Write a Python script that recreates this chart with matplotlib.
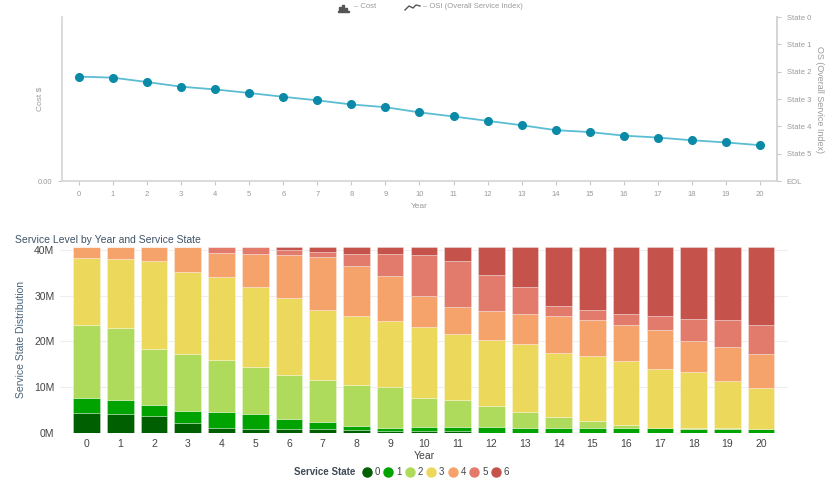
import numpy as np
import matplotlib
matplotlib.use("Agg")
import matplotlib.pyplot as plt
from matplotlib.lines import Line2D
from matplotlib.patches import Rectangle
from matplotlib.ticker import FuncFormatter

plt.rcParams['font.family'] = ['Liberation Sans', 'DejaVu Sans']

years = list(range(21))

# OSI (0 = State 0 ... 6 = EOL)
osi = [2.18, 2.22, 2.38, 2.55, 2.65, 2.78, 2.92, 3.05, 3.20, 3.30, 3.49,
       3.64, 3.80, 3.96, 4.14, 4.21, 4.34, 4.41, 4.51, 4.59, 4.69]
state_labels = ['State 0', 'State 1', 'State 2', 'State 3', 'State 4', 'State 5', 'EOL']

# service state distribution (millions) per year
state0 = [4.44, 4.2, 3.7, 2.25, 1.2, 0.95, 0.87, 0.8, 0.58, 0.44, 0.4,
          0.35, 0, 0, 0, 0, 0, 0, 0, 0, 0]
state1 = [3.27, 3.0, 2.4, 2.5, 3.35, 3.25, 2.26, 1.6, 0.95, 0.72, 0.84,
          0.89, 1.24, 1.16, 1.16, 1.0, 1.0, 1.0, 0.95, 0.95, 0.87]
state2 = [15.9, 15.8, 12.3, 12.5, 11.5, 10.3, 9.52, 9.16, 8.87, 8.8, 6.32,
          5.96, 4.66, 3.49, 2.34, 1.55, 0.8, 0.15, 0.1, 0.1, 0.1]
state3 = [14.7, 15.0, 19.1, 17.9, 18.0, 17.35, 16.95, 15.28, 15.2, 14.54, 15.64,
          14.47, 14.5, 14.7, 13.95, 14.25, 13.84, 12.89, 12.35, 10.35, 8.93]
state4 = [2.4, 2.7, 3.2, 5.6, 5.3, 7.25, 9.4, 11.66, 10.9, 9.75, 6.76,
          5.89, 6.3, 6.69, 8.05, 8.0, 7.86, 8.43, 6.7, 7.3, 7.4]
state5 = [0, 0, 0, 0, 1.3, 1.6, 0.9, 1.05, 2.6, 4.8, 8.84,
          9.94, 7.8, 5.76, 2.2, 2.04, 2.6, 3.13, 4.9, 5.95, 6.26]
state6 = [0, 0, 0, 0, 0, 0, 0.8, 1.15, 1.6, 1.65, 1.9,
          3.2, 6.2, 8.9, 13.0, 13.86, 14.6, 15.1, 15.7, 16.05, 17.14]
states = [state0, state1, state2, state3, state4, state5, state6]
state_names = ['0', '1', '2', '3', '4', '5', '6']
state_colors = ['#005f00', '#00a300', '#aedb5b', '#ecd95c', '#f6a36b', '#e27b6b', '#c5524b']

fig = plt.figure(figsize=(8.32, 4.84), dpi=100)

# ---------------- top chart: cost / OSI ----------------
grey = '#9a9a9a'
ax1 = fig.add_axes([62 / 832, 1 - 181 / 484, 715 / 832, 164 / 484])
ax1.set_xlim(-0.5, 20.5)
ax1.set_ylim(0, 1)
ax1.set_yticks([0])
ax1.set_yticklabels(['0.00'])
ax1.set_xticks(years)
ax1.spines['top'].set_visible(False)
for s in ['left', 'bottom', 'right']:
    ax1.spines[s].set_color('#d4d4d4')
    ax1.spines[s].set_linewidth(1.2)
ax1.tick_params(colors='#c8c8c8', labelcolor=grey, labelsize=5.5, length=3, pad=4)
ax1.set_xlabel('Year', fontsize=6, color=grey, labelpad=4)
ax1.set_ylabel('Cost $', fontsize=6, color=grey, labelpad=-4)

ax2 = ax1.twinx()
ax2.set_ylim(6, 0)
ax2.set_yticks(range(7))
ax2.set_yticklabels(state_labels)
for s in ['top', 'left', 'bottom']:
    ax2.spines[s].set_visible(False)
ax2.spines['right'].set_color('#d4d4d4')
ax2.spines['right'].set_linewidth(1.2)
ax2.tick_params(colors='#c8c8c8', labelcolor=grey, labelsize=5.5, length=3, pad=4)
ax2.set_ylabel('OS (Overall Service Index)', fontsize=6.5, color=grey, rotation=270, labelpad=9)
ax2.plot(years, osi, color='#5bbdd3', lw=1.3, marker='o', markersize=5.5,
         markerfacecolor='#0a8aa6', markeredgecolor='#0a8aa6', zorder=3)

# top legend
for i, h in enumerate([4, 6, 3]):
    fig.add_artist(Rectangle(((339 + i * 3) / 832, 1 - 11 / 484), 2 / 832, h / 484,
                             transform=fig.transFigure, color='#555555'))
fig.add_artist(Rectangle((338 / 832, 1 - 11.5 / 484), 11 / 832, 0.8 / 484,
                         transform=fig.transFigure, color='#555555'))
fig.text(354 / 832, 1 - 7 / 484, '– Cost', fontsize=5.5, color=grey, va='center')
fig.add_artist(Line2D(np.array([405, 409, 413, 416, 420]) / 832,
                      1 - np.array([10, 6, 8, 5, 6]) / 484,
                      transform=fig.transFigure, color='#555555', lw=1))
fig.text(423 / 832, 1 - 7 / 484, '– OSI (Overall Service Index)', fontsize=5.5, color=grey, va='center')

# ---------------- bottom chart: stacked bars ----------------
ax3 = fig.add_axes([60 / 832, 1 - 433 / 484, 728 / 832, 186.7 / 484])
ax3.set_xlim(-0.79, 20.8)
ax3.set_ylim(0, 40.8)
bottom = np.zeros(len(years))
for vals, name, col in zip(states, state_names, state_colors):
    ax3.bar(years, vals, bottom=bottom, width=0.79, color=col,
            edgecolor=(1, 1, 1, 0.35), linewidth=0.6, label=name, zorder=3)
    bottom += np.array(vals)
ax3.set_yticks([0, 10, 20, 30, 40])
ax3.yaxis.set_major_formatter(FuncFormatter(lambda v, p: '%dM' % v))
ax3.set_xticks(years)
ax3.grid(axis='y', color='#eeeeee', lw=0.8, zorder=0)
for s in ax3.spines.values():
    s.set_visible(False)
ax3.tick_params(length=0, labelsize=7.5, labelcolor='#444444', pad=4)
ax3.set_xlabel('Year', fontsize=7.5, color='#444444', labelpad=2)
ax3.set_ylabel('Service State Distribution', fontsize=7.5, color='#4a6378', labelpad=6)
fig.text(15 / 832, 1 - 240 / 484, 'Service Level by Year and Service State',
         fontsize=7.5, color='#3f5366', va='center')

handles = [Line2D([], [], marker='o', ls='', markersize=6.5, markerfacecolor=c,
                  markeredgecolor=c) for c in state_colors]
fig.text(355 / 832, 1 - 472 / 484, 'Service State', fontsize=7, fontweight='bold',
         color='#3f4a55', ha='right', va='center')
fig.legend(handles, state_names, loc='center left', bbox_to_anchor=(362 / 832, 1 - 472 / 484),
           ncol=7, frameon=False, fontsize=7, handletextpad=0.3, columnspacing=0.36,
           handlelength=1.0, borderpad=0, borderaxespad=0, labelcolor='#444444')

fig.savefig('out.png', dpi=100)
